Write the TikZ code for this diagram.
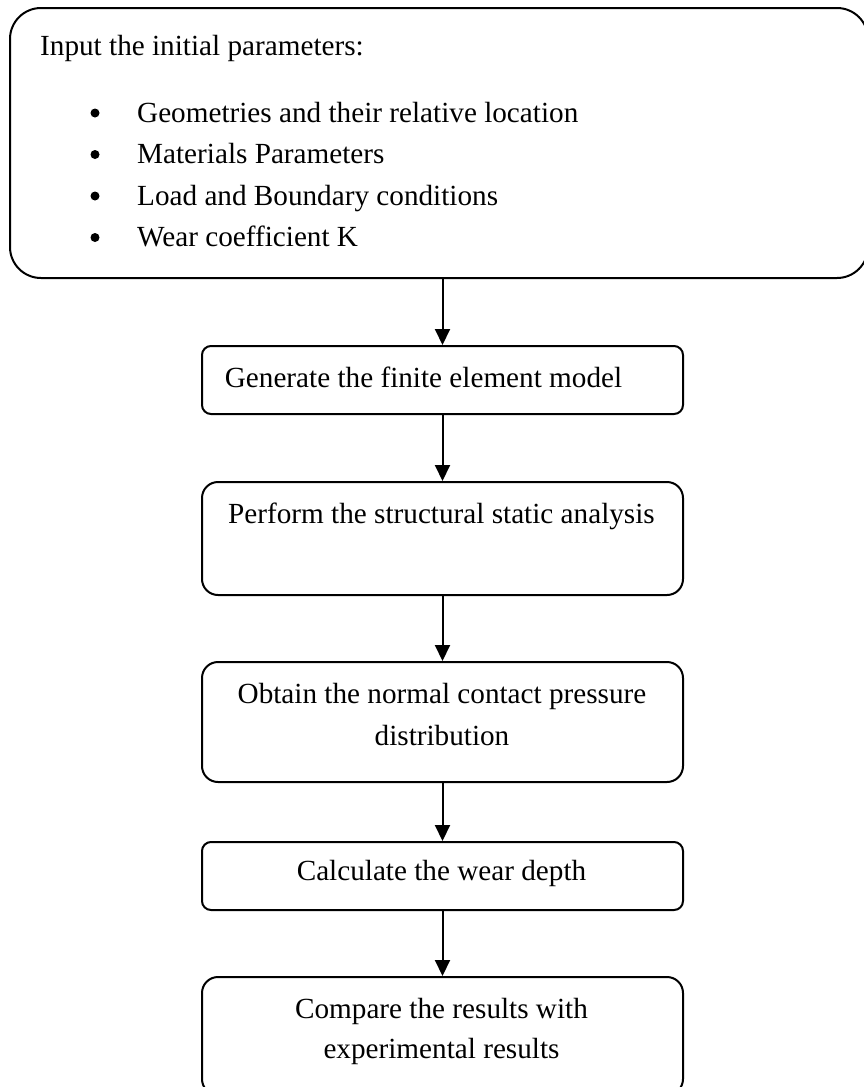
\documentclass[tikz,border=0pt]{standalone}
\usepackage{fontspec}
\setmainfont{Liberation Serif}
\usetikzlibrary{arrows.meta}
\begin{document}
\begin{tikzpicture}[x=1pt,y=-1pt,
  boxline/.style={draw=black, line width=2pt},
  stepbox/.style={boxline, rounded corners=9pt, inner sep=0pt},
  bigbox/.style={boxline, rounded corners=16pt, inner sep=0pt},
  txt/.style={font=\fontsize{29.2}{34}\selectfont, inner sep=0pt, anchor=base},
  ltxt/.style={font=\fontsize{29.2}{34}\selectfont, inner sep=0pt, anchor=base west},
  bul/.style={circle, fill=black, inner sep=0pt, minimum size=9pt},
  flow/.style={line width=2pt, -{Triangle[length=16pt,width=15pt]}}]
\useasboundingbox (0,0) rectangle (864,1087);
% top box
\node[boxline, rounded corners=31pt, minimum width=858pt, minimum height=270pt, inner sep=0pt] (inp) at (439,143) {};
\node[ltxt] (t0) at (40,55) {Input the initial parameters:};
\node[bul] (d1) at (95,113) {};
\node[ltxt] (t1) at (137,122) {Geometries and their relative location};
\node[bul] (d2) at (95,154.5) {};
\node[ltxt] (t2) at (137,163.5) {Materials Parameters};
\node[bul] (d3) at (95,196) {};
\node[ltxt] (t3) at (137,205) {Load and Boundary conditions};
\node[bul] (d4) at (95,237.5) {};
\node[ltxt] (t4) at (137,246.5) {Wear coefficient K};
% step boxes
\node[stepbox, minimum width=481pt, minimum height=68pt] (b2) at (442.5,380) {};
\node[txt] (l2) at (423.5,387) {Generate the finite element model};
\node[bigbox, minimum width=481pt, minimum height=113pt] (b3) at (442.5,538.5) {};
\node[txt] (l3) at (441.5,523) {Perform the structural static analysis};
\node[bigbox, minimum width=481pt, minimum height=120pt] (b4) at (442.5,722) {};
\node[txt] (l4a) at (442,703) {Obtain the normal contact pressure};
\node[txt] (l4b) at (442,745) {distribution};
\node[stepbox, minimum width=481pt, minimum height=68pt] (b5) at (442.5,876) {};
\node[txt] (l5) at (441.5,880) {Calculate the wear depth};
\node[bigbox, minimum width=481pt, minimum height=118pt] (b6) at (442.5,1036) {};
\node[txt] (l6a) at (441.5,1018) {Compare the results with};
\node[txt] (l6b) at (441.5,1058) {experimental results};
% arrows
\draw[flow] (inp.south -| b2.north) -- (b2.north);
\draw[flow] (b2.south) -- (b3.north);
\draw[flow] (b3.south) -- (b4.north);
\draw[flow] (b4.south) -- (b5.north);
\draw[flow] (b5.south) -- (b6.north);
\end{tikzpicture}
\end{document}
